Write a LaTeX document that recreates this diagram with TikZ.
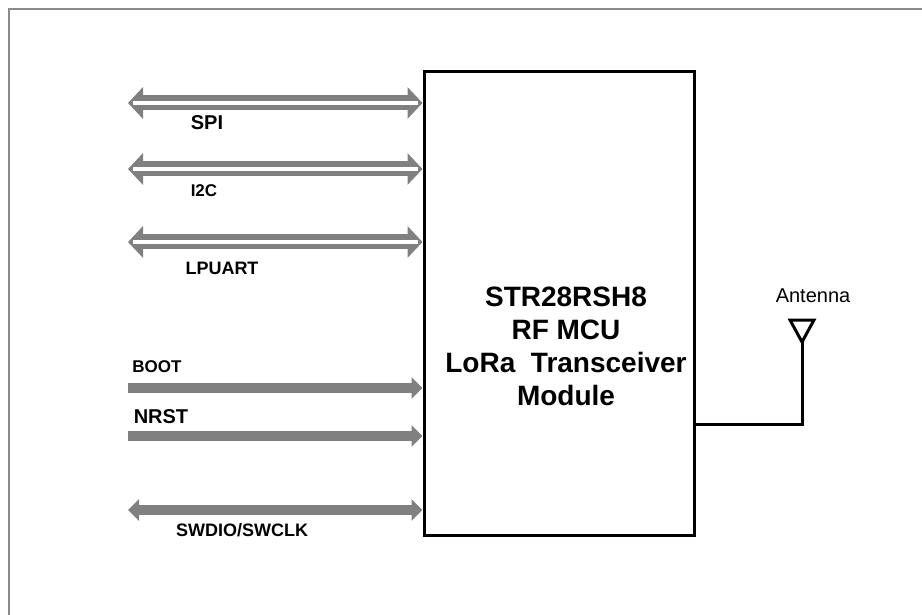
\documentclass[tikz,border=0pt]{standalone}
\usepackage{fontspec}
\setmainfont{Liberation Sans}
\usepackage{tikz}
\usetikzlibrary{arrows.meta}

\definecolor{busgray}{HTML}{808080}
\definecolor{framegray}{HTML}{8C8C8C}

\begin{document}
\begin{tikzpicture}[x=1pt, y=-1pt,
	bus/.style={draw=busgray, line width=15pt, {Triangle[length=15pt,width=31pt]}-{Triangle[length=15pt,width=31pt]}},
	businner/.style={draw=white, line width=4pt, shorten <=5pt, shorten >=5pt},
	sig/.style={draw=busgray, line width=10.5pt, -{Triangle[length=11pt,width=21pt]}},
	lbl/.style={font=\bfseries\fontsize{#1}{#1}\selectfont, inner sep=0pt}]
	\useasboundingbox (0,0) rectangle (922,615);
	\draw[framegray, line width=2.5pt] (9,615) -- (9,9) -- (922,9);

	\draw (559,303.5) node(mcu) [draw, line width=3pt, minimum width=270pt, minimum height=463pt] {};
	\draw (566,346) node(mcutext) [align=center, font=\bfseries\fontsize{28}{33}\selectfont] {STR28RSH8\\RF MCU\\LoRa\ \ Transceiver\\Module};

	\coordinate (spiL) at (128,103);
	\coordinate (iicL) at (128,169);
	\coordinate (uartL) at (128,242);
	\coordinate (bootL) at (128,388);
	\coordinate (nrstL) at (128,436);
	\coordinate (swdL) at (128,510);

	\path[bus] (spiL) -- (spiL -| mcu.west);
	\path[businner] (spiL) -- (spiL -| mcu.west);
	\path[bus] (iicL) -- (iicL -| mcu.west);
	\path[businner] (iicL) -- (iicL -| mcu.west);
	\path[bus] (uartL) -- (uartL -| mcu.west);
	\path[businner] (uartL) -- (uartL -| mcu.west);
	\path[sig] (bootL) -- (bootL -| mcu.west);
	\path[sig] (nrstL) -- (nrstL -| mcu.west);
	\path[sig, {Triangle[length=11pt,width=21pt]}-{Triangle[length=11pt,width=21pt]}] (swdL) -- (swdL -| mcu.west);

	\draw (207,123) node(spi) [lbl=20] {SPI};
	\draw (204,191) node(iic) [lbl=17] {I2C};
	\draw (222,268) node(uart) [lbl=18] {LPUART};
	\draw (157,367) node(boot) [lbl=17] {BOOT};
	\draw (161,417) node(nrst) [lbl=20] {NRST};
	\draw (242,530) node(swd) [lbl=18] {SWDIO/SWCLK};

	\coordinate (anttip) at (802,342);
	\coordinate (feed) at (802,424);
	\draw[line width=3pt, line join=miter] (anttip) -- ++(-12,-22) -- ++(24,0) -- cycle;
	\draw[line width=3pt] (anttip) -- (feed) -- (feed -| mcu.east);
	\draw (813,296) node(ant) [font=\fontsize{20}{20}\selectfont, inner sep=0pt] {Antenna};
\end{tikzpicture}
\end{document}
